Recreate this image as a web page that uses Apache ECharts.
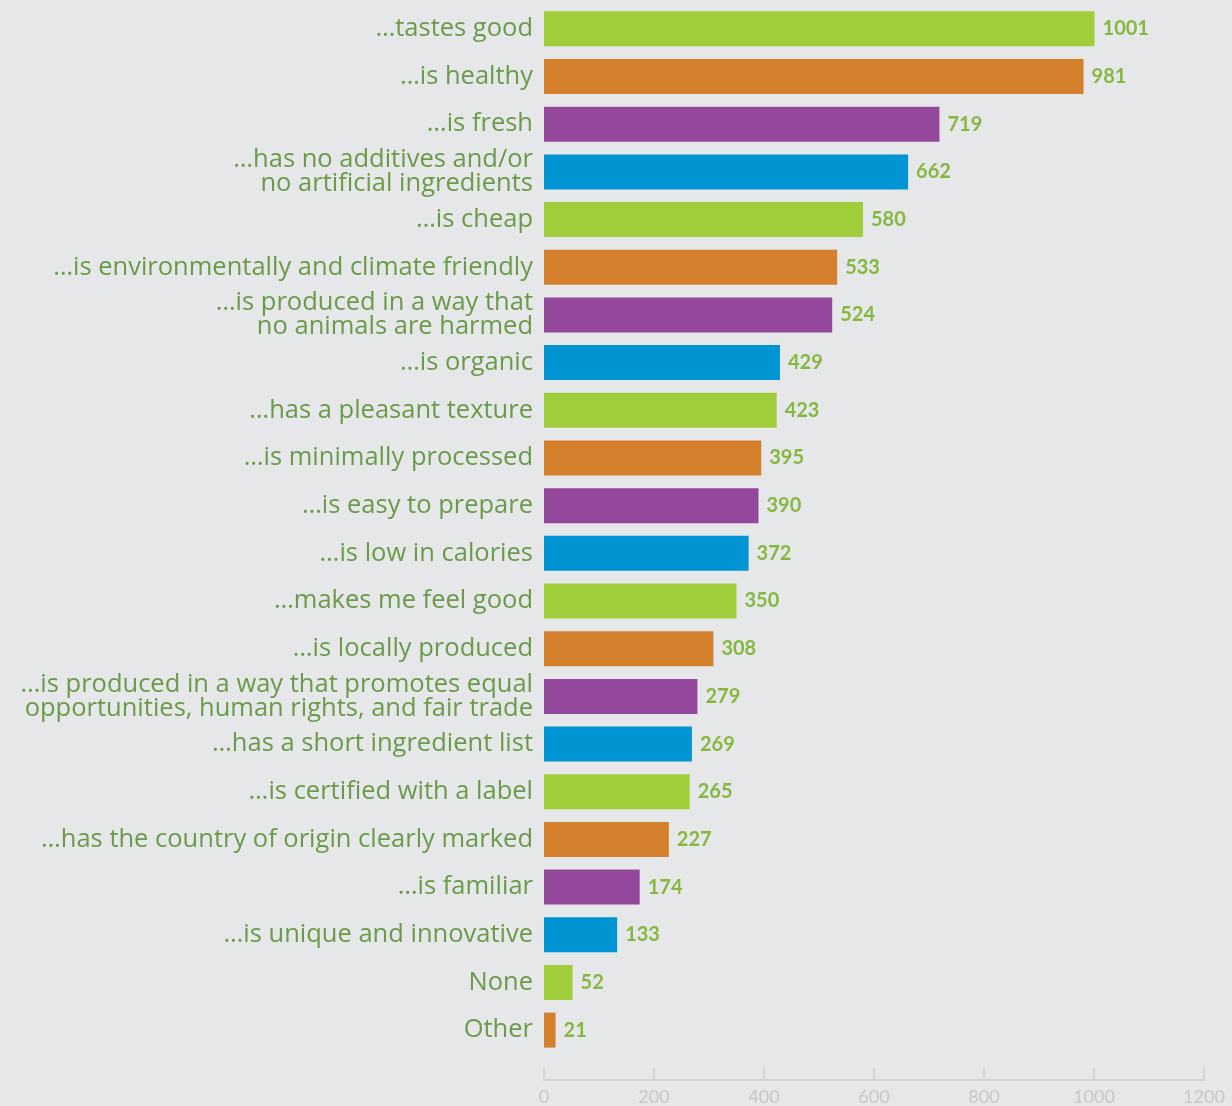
<!DOCTYPE html>
<html>
<head>
<meta charset="utf-8">
<script src="https://cdn.jsdelivr.net/npm/echarts@6/dist/echarts.min.js"></script>
<style>
  html, body { margin: 0; padding: 0; background: #e6e7e8; }
  #main { width: 1232px; height: 1106px; }
</style>
</head>
<body>
<div id="main"></div>
<script>
// reasons, top to bottom
var categories = [
    "…tastes good",
    "…is healthy",
    "…is fresh",
    "…has no additives and/or\nno artificial ingredients",
    "…is cheap",
    "…is environmentally and climate friendly",
    "…is produced in a way that\nno animals are harmed",
    "…is organic",
    "…has a pleasant texture",
    "…is minimally processed",
    "…is easy to prepare",
    "…is low in calories",
    "…makes me feel good",
    "…is locally produced",
    "…is produced in a way that promotes equal\nopportunities, human rights, and fair trade",
    "…has a short ingredient list",
    "…is certified with a label",
    "…has the country of origin clearly marked",
    "…is familiar",
    "…is unique and innovative",
    "None",
    "Other"
];
var counts = [1001, 981, 719, 662, 580, 533, 524, 429, 423, 395, 390, 372, 350, 308, 279, 269, 265, 227, 174, 133, 52, 21];
var palette = ["#a0cd3a", "#d47f2c", "#93489c", "#0094d2"]; // repeats down the list
var xTicks = { min: 0, max: 1200, step: 200 };

var barData = counts.map(function (v, i) {
    return { value: v, itemStyle: { color: palette[i % palette.length] } };
});

var myChart = echarts.init(document.getElementById('main'));
myChart.setOption({
    backgroundColor: "#e6e7e8",
    animation: false,
    grid: { left: 544, right: 28, top: 5, bottom: 51, containLabel: false },
    xAxis: {
        type: 'value',
        min: xTicks.min,
        max: xTicks.max,
        interval: xTicks.step,
        offset: 26,
        splitLine: { show: false },
        axisLine: { show: true, lineStyle: { color: "#d3d4d6", width: 2 } },
        axisTick: { show: true, inside: true, length: 12, lineStyle: { color: "#d3d4d6", width: 2 } },
        axisLabel: {
            color: "#c6c7c9", fontSize: 18, fontFamily: "Lato", margin: 8,
            formatter: function (v) { return String(v); }
        }
    },
    yAxis: {
        type: 'category',
        data: categories,
        inverse: true,
        axisLine: { show: false },
        axisTick: { show: false },
        axisLabel: {
            color: "#6b9a4b",
            fontSize: 25.5,
            fontFamily: "Open Sans",
            lineHeight: 24,
            align: 'right',
            margin: 11
        }
    },
    series: [{
        type: 'bar',
        data: barData,
        barWidth: 35,
        label: {
            show: true,
            position: 'right',
            distance: 8,
            color: "#86b841",
            fontSize: 20,
            fontWeight: 'bold',
            fontFamily: "Lato"
        }
    }]
});
</script>
</body>
</html>
